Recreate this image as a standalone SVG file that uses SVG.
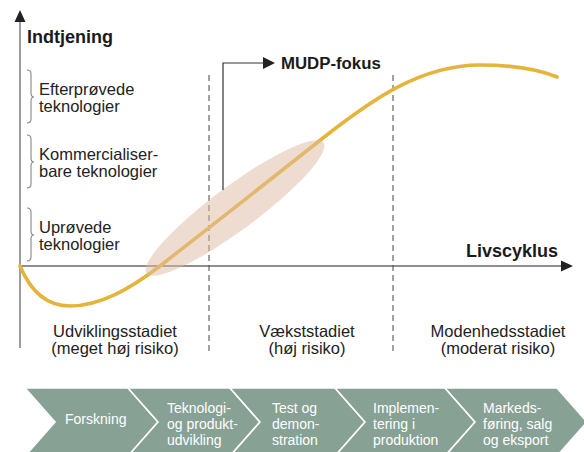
<svg xmlns="http://www.w3.org/2000/svg" width="584" height="452" viewBox="0 0 584 452">
<style>
  text { font-family: "Liberation Sans", Arial, sans-serif; fill: #222; }
  .title { font-weight: bold; font-size: 18px; fill: #1a1a1a; }
  .lbl { font-size: 16.5px; }
  .stage { font-size: 16.5px; text-anchor: middle; }
  .chev { fill: #88a195; stroke: #ffffff; stroke-width: 1.6; }
  .ctext { font-size: 14px; fill: #ffffff; }
  .axis { stroke: #6a6a6a; stroke-width: 1.3; fill: none; }
  .dash { stroke: #444; stroke-width: 1; stroke-dasharray: 6 4; fill: none; }
  .brace { stroke: #888; stroke-width: 1.1; fill: none; }
  .head { fill: #222; }
</style>

<g id="axes">
  <line class="axis" x1="20" y1="348" x2="20" y2="20"/>
  <polygon class="head" points="20,10 14.5,22 25.5,22"/>
  <line class="axis" x1="20" y1="266" x2="562" y2="266"/>
  <polygon class="head" points="573,266 561,260.5 561,271.5"/>
  <text class="title" x="27" y="43">Indtjening</text>
  <text class="title" x="558" y="257" text-anchor="end">Livscyklus</text>
</g>

<g id="stage-dividers">
  <line class="dash" x1="209" y1="75" x2="209" y2="355"/>
  <line class="dash" x1="393" y1="75" x2="393" y2="355"/>
</g>

<g id="tech-labels">
  <g id="label-efterproevede">
    <path class="brace" d="M27,70 Q31,70 31,74 L31,93 Q31,97 34,97 Q31,97 31,101 L31,119 Q31,123 27,123"/>
    <text class="lbl" x="39" y="95">Efterprøvede</text>
    <text class="lbl" x="39" y="112">teknologier</text>
  </g>
  <g id="label-kommercialiserbare">
    <path class="brace" d="M27,135 Q31,135 31,139 L31,158 Q31,162 34,162 Q31,162 31,166 L31,184 Q31,188 27,188"/>
    <text class="lbl" x="39" y="160">Kommercialiser-</text>
    <text class="lbl" x="39" y="177">bare teknologier</text>
  </g>
  <g id="label-uproevede">
    <path class="brace" d="M27,208 Q31,208 31,212 L31,231 Q31,235 34,235 Q31,235 31,239 L31,257 Q31,261 27,261"/>
    <text class="lbl" x="39" y="233">Uprøvede</text>
    <text class="lbl" x="39" y="250">teknologier</text>
  </g>
</g>

<g id="curve">
  <path d="M20,266 C30,290 45,306 70,306 C100,306 130,289 160,266 C200,235 280,172 323,138 C370,101 420,65 480,65 C515,65 540,70 557,77" fill="none" stroke="#e5b43c" stroke-width="3.6" stroke-linecap="round"/>
</g>

<g id="mudp-focus">
  <ellipse cx="235" cy="208" rx="110" ry="22" transform="rotate(-36.5 235 208)" fill="#dfb9a1" fill-opacity="0.5"/>
</g>

<g id="connectors">
  <polyline points="223,190 223,63 264,63" fill="none" stroke="#333" stroke-width="1.2"/>
  <polygon class="head" points="275,63 263,57 263,69"/>
</g>
<g id="mudp-label">
  <text class="title" x="281" y="69" style="font-size:16.8px">MUDP-fokus</text>
</g>

<g id="stages">
  <g id="stage-udvikling">
    <text class="stage" x="115" y="337">Udviklingsstadiet</text>
    <text class="stage" x="115" y="354">(meget høj risiko)</text>
  </g>
  <g id="stage-vaekst">
    <text class="stage" x="307" y="337">Vækststadiet</text>
    <text class="stage" x="307" y="354">(høj risiko)</text>
  </g>
  <g id="stage-moden">
    <text class="stage" x="498" y="337">Modenhedsstadiet</text>
    <text class="stage" x="498" y="354">(moderat risiko)</text>
  </g>
</g>

<g id="value-chain">
  <g id="chev-forskning">
    <polygon class="chev" points="25,388 128,388 158,422 128,456 25,456 55,422"/>
    <text class="ctext" x="65" y="424">Forskning</text>
  </g>
  <g id="chev-teknologi">
    <polygon class="chev" points="128,388 230,388 260,422 230,456 128,456 158,422"/>
    <text class="ctext" x="167" y="413">Teknologi-</text>
    <text class="ctext" x="167" y="429">og produkt-</text>
    <text class="ctext" x="167" y="445">udvikling</text>
  </g>
  <g id="chev-test">
    <polygon class="chev" points="230,388 335,388 365,422 335,456 230,456 260,422"/>
    <text class="ctext" x="272" y="413">Test og</text>
    <text class="ctext" x="272" y="429">demon-</text>
    <text class="ctext" x="272" y="445">stration</text>
  </g>
  <g id="chev-implementering">
    <polygon class="chev" points="335,388 445,388 475,422 445,456 335,456 365,422"/>
    <text class="ctext" x="373" y="413">Implemen-</text>
    <text class="ctext" x="373" y="429">tering i</text>
    <text class="ctext" x="373" y="445">produktion</text>
  </g>
  <g id="chev-markedsfoering">
    <polygon class="chev" points="445,388 557,388 587,422 557,456 445,456 475,422"/>
    <text class="ctext" x="483" y="413">Markeds-</text>
    <text class="ctext" x="483" y="429">føring, salg</text>
    <text class="ctext" x="483" y="445">og eksport</text>
  </g>
</g>
</svg>
